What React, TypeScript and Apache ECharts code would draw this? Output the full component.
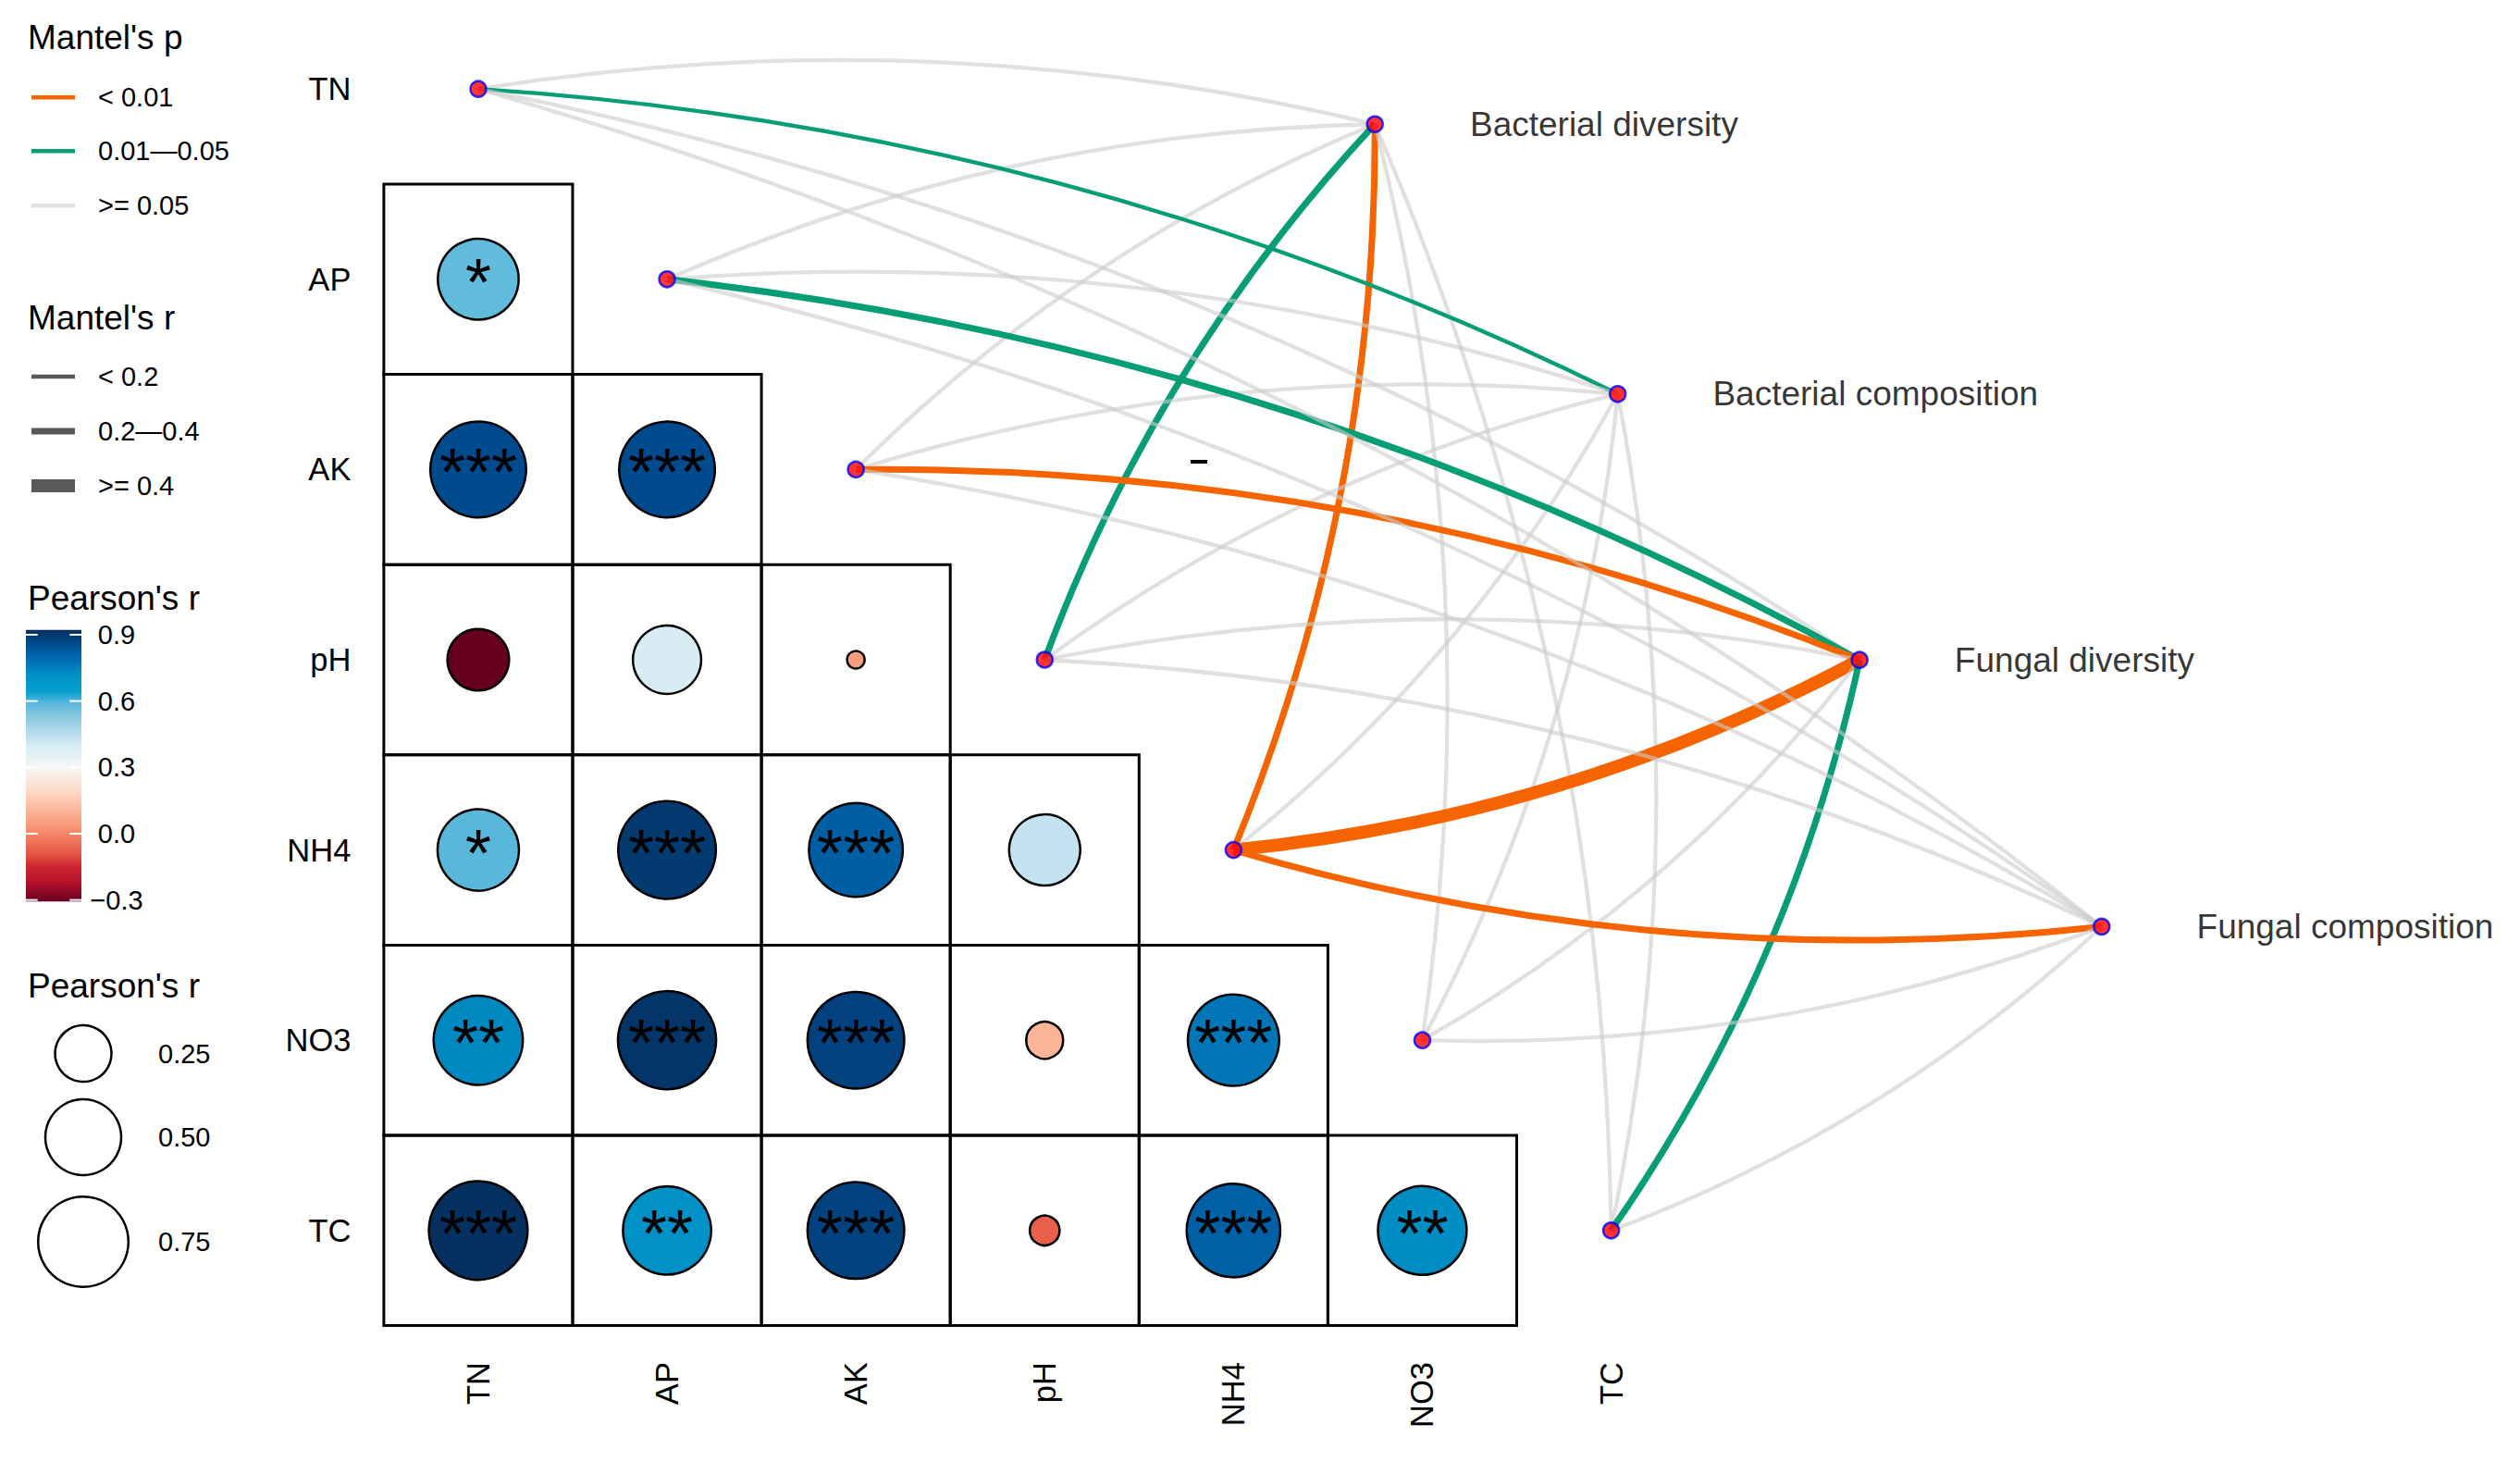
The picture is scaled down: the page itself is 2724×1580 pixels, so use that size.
import React, { useEffect, useRef } from 'react';
import * as echarts from 'echarts';

// ---------------- data ----------------
const envVars = ['TN', 'AP', 'AK', 'pH', 'NH4', 'NO3', 'TC'];

// Pearson's r, lower triangle (row variable vs TN, AP, ...)
const rAP = [0.58];
const rAK = [0.86, 0.86];
const rPH = [-0.307, 0.39, 0.05];
const rNH4 = [0.59, 0.9, 0.82, 0.43];
const rNO3 = [0.73, 0.91, 0.88, 0.1, 0.77];
const rTC = [0.922, 0.71, 0.88, -0.07, 0.815, 0.72];

// significance stars
const sAP = ['*'];
const sAK = ['***', '***'];
const sPH = ['', '', ''];
const sNH4 = ['*', '***', '***', ''];
const sNO3 = ['**', '***', '***', '', '***'];
const sTC = ['***', '**', '***', '', '***', '**'];

// Mantel test (species side)
const specNames = ['Bacterial diversity', 'Bacterial composition', 'Fungal diversity', 'Fungal composition'];
// p class: 0 = < 0.01, 1 = 0.01-0.05, 2 = >= 0.05   (order TN AP AK pH NH4 NO3 TC)
const pBD = [2, 2, 2, 1, 0, 2, 2];
const pBC = [1, 2, 2, 2, 2, 2, 2];
const pFD = [2, 1, 0, 2, 0, 2, 1];
const pFC = [2, 2, 2, 2, 0, 2, 2];
// r class: 0 = < 0.2, 1 = 0.2-0.4, 2 = >= 0.4
const mrBD = [0, 0, 0, 1, 1, 0, 0];
const mrBC = [0, 0, 0, 0, 0, 0, 0];
const mrFD = [0, 1, 1, 0, 2, 0, 1];
const mrFC = [0, 0, 0, 0, 1, 0, 0];

const pLabels = ['< 0.01', '0.01\u20140.05', '>= 0.05'];
const rLabels = ['< 0.2', '0.2\u20140.4', '>= 0.4'];
const barTicks = [0.9, 0.6, 0.3, 0.0, -0.3];
const barTickLabels = ['0.9', '0.6', '0.3', '0.0', '\u22120.3'];
const sizeBreaks = [0.25, 0.5, 0.75];
const sizeBreakLabels = ['0.25', '0.50', '0.75'];

// ---------------- layout / style ----------------
const W = 2724;
const H = 1580;
const FONT = "'Liberation Sans', Arial, Helvetica, sans-serif";
const specPos = [
  [4.749, 0.185],
  [6.035, 1.603],
  [7.316, 3.001],
  [8.598, 4.403],
];
const pColors = ['#F66400', '#079E76', 'rgba(204,204,204,0.6)'];
const rWidths = [4.3, 7, 14];
const R_MIN = -0.307;
const R_MAX = 0.922;
const colorStops: [number, string][] = [
  [-0.307, '#67001F'],
  [-0.22, '#B5112B'],
  [-0.15, '#CC2531'],
  [-0.1, '#E2503F'],
  [0.0, '#F6866A'],
  [0.1, '#FCB496'],
  [0.2, '#FDDCCB'],
  [0.3, '#F7F7F7'],
  [0.4, '#D5EAF3'],
  [0.5, '#9DCFE4'],
  [0.59, '#5AB8DA'],
  [0.645, '#05A0D0'],
  [0.72, '#008EC4'],
  [0.8, '#0068AE'],
  [0.86, '#004B8E'],
  [0.922, '#05305F'],
];

function hex2rgb(h: string) {
  const n = parseInt(h.slice(1), 16);
  return [(n >> 16) & 255, (n >> 8) & 255, n & 255];
}
function colorAt(v: number) {
  for (let i = 0; i < colorStops.length - 1; i++) {
    const [a, ca] = colorStops[i];
    const [b, cb] = colorStops[i + 1];
    if (v >= a && v <= b) {
      const t = (v - a) / (b - a);
      const A = hex2rgb(ca);
      const B = hex2rgb(cb);
      const c = A.map((x, k) => Math.round(x + (B[k] - x) * t));
      return `rgb(${c[0]},${c[1]},${c[2]})`;
    }
  }
  return v < colorStops[0][0] ? colorStops[0][1] : colorStops[colorStops.length - 1][1];
}
const sizeOf = (v: number) => 19 + 94 * Math.sqrt(Math.max(0, Math.abs(v) - 0.05));

export default function App() {
  const ref = useRef<HTMLDivElement>(null);
  useEffect(() => {
    if (!ref.current) return;
    const chart = echarts.init(ref.current, null, { renderer: 'svg' });

    const rRows = [rAP, rAK, rPH, rNH4, rNO3, rTC];
    const sRows = [sAP, sAK, sPH, sNH4, sNO3, sTC];
    const cells: any[] = [];
    for (let i = 1; i < envVars.length; i++) {
      for (let j = 0; j < i; j++) {
        cells.push([j, i, rRows[i - 1][j], sRows[i - 1][j]]);
      }
    }

    const pAll = [pBD, pBC, pFD, pFC];
    const rAll = [mrBD, mrBC, mrFD, mrFC];
    const links: any[] = [];
    specNames.forEach((_, s) => {
      envVars.forEach((_, e) => {
        links.push({
          coords: [
            [e, e],
            [specPos[s][0], specPos[s][1]],
          ],
          lineStyle: {
            color: pColors[pAll[s][e]],
            width: rWidths[rAll[s][e]],
            curveness: e < 4 ? 0.1 : -0.1,
            opacity: 1,
          },
        });
      });
    });

    // colour bar gradient
    const span = R_MAX - R_MIN;
    const gradStops = colorStops.map(([v, c]) => ({ offset: (R_MAX - v) / span, color: c })).reverse();
    const BAR_X = 28, BAR_Y = 680.7, BAR_W = 60, BAR_H = 293.6;
    const barY = (v: number) => BAR_Y + ((R_MAX - v) / span) * BAR_H;

    const graphics: any[] = [];
    const txt = (x: number, y: number, text: string, size: number, align = 'left') => ({
      type: 'text',
      x,
      y,
      style: { text, fill: '#000', font: `${size}px ${FONT}`, textAlign: align, textVerticalAlign: 'middle' },
      z: 10,
    });
    // Mantel's p
    graphics.push(txt(30, 40.5, "Mantel's p", 37));
    const pY = [105.3, 163.3, 222.3];
    pLabels.forEach((l, i) => {
      graphics.push({ type: 'line', shape: { x1: 34, y1: pY[i], x2: 81, y2: pY[i] }, style: { stroke: pColors[i], lineWidth: 4.6 }, z: 10 });
      graphics.push(txt(106, pY[i], l, 29));
    });
    // Mantel's r
    graphics.push(txt(30, 343.2, "Mantel's r", 37));
    const rY = [407, 466, 525];
    rLabels.forEach((l, i) => {
      graphics.push({ type: 'line', shape: { x1: 34, y1: rY[i], x2: 81, y2: rY[i] }, style: { stroke: '#595959', lineWidth: rWidths[i] }, z: 10 });
      graphics.push(txt(106, rY[i], l, 29));
    });
    // Pearson's r colour bar
    graphics.push(txt(30, 646.2, "Pearson's r", 37));
    graphics.push({
      type: 'rect',
      shape: { x: BAR_X, y: BAR_Y, width: BAR_W, height: BAR_H },
      style: { fill: new echarts.graphic.LinearGradient(0, 0, 0, 1, gradStops) },
      z: 10,
    });
    barTicks.forEach((v, i) => {
      const y = barY(v);
      graphics.push({ type: 'line', shape: { x1: BAR_X, y1: y, x2: BAR_X + 12.7, y2: y }, style: { stroke: '#fff', lineWidth: 2 }, z: 11 });
      graphics.push({ type: 'line', shape: { x1: BAR_X + BAR_W - 12.7, y1: y, x2: BAR_X + BAR_W, y2: y }, style: { stroke: '#fff', lineWidth: 2 }, z: 11 });
      graphics.push(txt(126, y, barTickLabels[i], 29, 'center'));
    });
    // Pearson's r size
    graphics.push(txt(30, 1065.7, "Pearson's r", 37));
    const sY = [1138.6, 1229, 1342];
    sizeBreaks.forEach((v, i) => {
      graphics.push({ type: 'circle', shape: { cx: 90, cy: sY[i], r: sizeOf(v) / 2 }, style: { fill: '#fff', stroke: '#000', lineWidth: 2.5 }, z: 10 });
      graphics.push(txt(171, sY[i], sizeBreakLabels[i], 29));
    });
    // stray dash mark
    graphics.push({ type: 'rect', shape: { x: 1287, y: 497, width: 18, height: 4 }, style: { fill: '#000' }, z: 10 });

    const option: any = {
      animation: false,
      backgroundColor: '#fff',
      textStyle: { fontFamily: FONT },
      grid: { left: 414.9, right: 2.8, top: 3.68, bottom: 147.4, containLabel: false },
      xAxis: {
        type: 'value',
        min: -0.5,
        max: 10.8,
        axisLine: { show: false },
        axisTick: { show: false },
        splitLine: { show: false },
        axisLabel: {
          customValues: envVars.map((_, i) => i),
          formatter: (v: number) => envVars[Math.round(v)] ?? '',
          rotate: 90,
          margin: 39.5,
          fontSize: 34.5,
          color: '#000',
          fontFamily: FONT,
        },
      },
      yAxis: {
        type: 'value',
        inverse: true,
        min: -0.45,
        max: 6.5,
        axisLine: { show: false },
        axisTick: { show: false },
        splitLine: { show: false },
        axisLabel: {
          customValues: envVars.map((_, i) => i),
          formatter: (v: number) => envVars[Math.round(v)] ?? '',
          margin: 35.5,
          fontSize: 34.5,
          color: '#000',
          fontFamily: FONT,
        },
      },
      visualMap: {
        show: false,
        type: 'continuous',
        min: R_MIN,
        max: R_MAX,
        dimension: 2,
        seriesIndex: 1,
        inRange: { color: Array.from({ length: 60 }, (_, k) => colorAt(R_MIN + (span * k) / 59)) },
      },
      graphic: graphics,
      series: [
        {
          type: 'custom',
          silent: true,
          z: 1,
          data: cells.map((c) => [c[0], c[1]]),
          renderItem: (params: any, api: any) => {
            const x = api.value(0);
            const y = api.value(1);
            const p1 = api.coord([x - 0.5, y - 0.5]);
            const p2 = api.coord([x + 0.5, y + 0.5]);
            return {
              type: 'rect',
              shape: {
                x: Math.min(p1[0], p2[0]),
                y: Math.min(p1[1], p2[1]),
                width: Math.abs(p2[0] - p1[0]),
                height: Math.abs(p2[1] - p1[1]),
              },
              style: { fill: 'none', stroke: '#000', lineWidth: 3 },
            };
          },
        },
        {
          type: 'scatter',
          z: 3,
          silent: true,
          data: cells,
          symbol: 'circle',
          symbolSize: (val: any) => sizeOf(val[2]),
          itemStyle: { borderColor: '#000', borderWidth: 2.5, opacity: 1 },
          label: {
            show: true,
            position: 'inside',
            formatter: (p: any) => p.value[3],
            fontSize: 72,
            color: '#000',
            fontFamily: FONT,
            offset: [0, 3],
          },
        },
        {
          type: 'lines',
          coordinateSystem: 'cartesian2d',
          silent: true,
          z: 4,
          lineStyle: { opacity: 1 },
          data: links,
        },
        {
          type: 'scatter',
          z: 5,
          silent: true,
          data: envVars.map((_, i) => [i, i]),
          symbol: 'circle',
          symbolSize: 17,
          itemStyle: { color: '#FF0000', borderColor: '#0000FF', borderWidth: 2.5 },
        },
        {
          type: 'scatter',
          z: 5,
          silent: true,
          data: specNames.map((n, i) => [specPos[i][0], specPos[i][1], n]),
          symbol: 'circle',
          symbolSize: 17,
          itemStyle: { color: '#FF0000', borderColor: '#0000FF', borderWidth: 2.5 },
          label: {
            show: true,
            position: 'right',
            distance: 93,
            formatter: (p: any) => p.value[2],
            fontSize: 37,
            color: '#000000',
            fontFamily: FONT,
          },
        },
      ],
    };
    chart.setOption(option);
    return () => chart.dispose();
  }, []);
  return (
    <div
      ref={ref}
      style={{ position: 'fixed', left: 0, top: 0, width: W, height: H, background: '#fff' }}
    />
  );
}
